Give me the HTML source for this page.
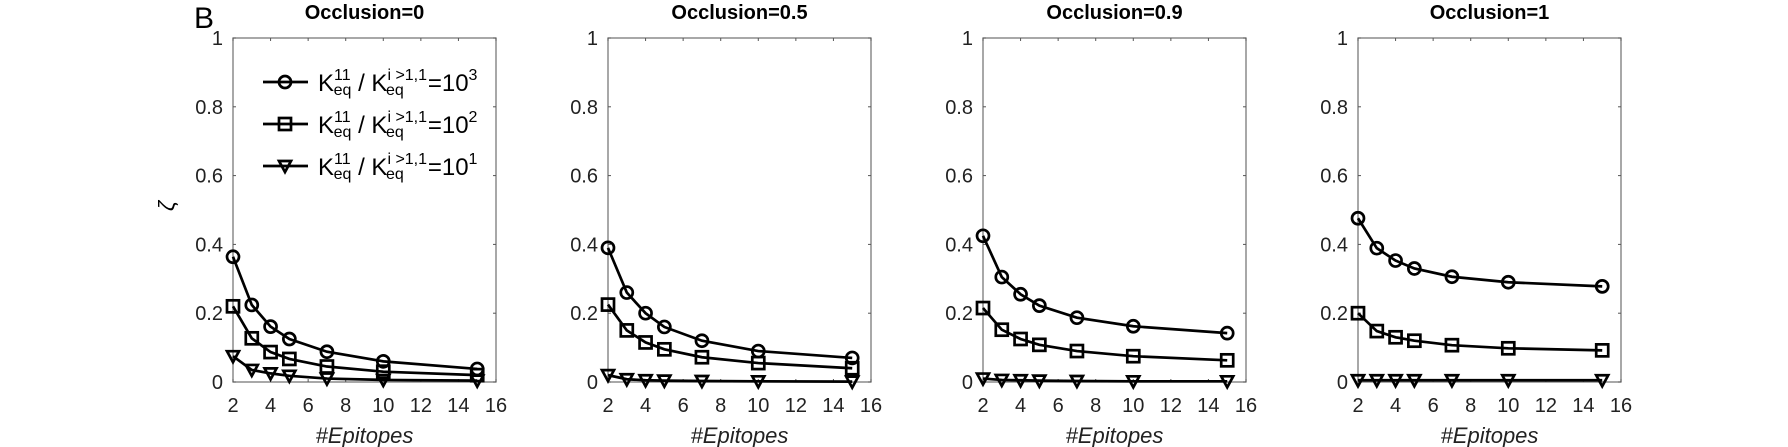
<!DOCTYPE html>
<html><head><meta charset="utf-8"><style>
body{margin:0;background:#fff;}
svg{display:block;font-family:"Liberation Sans",sans-serif;}
</style></head><body>
<svg id="c" width="1788" height="447" viewBox="0 0 1788 447" xmlns="http://www.w3.org/2000/svg"></svg>
<script>
const epitopes=[2,3,4,5,7,10,15];
const titles=["Occlusion=0","Occlusion=0.5","Occlusion=0.9","Occlusion=1"];
const xTicks=[2,4,6,8,10,12,14,16];
const yTicks=[0,0.2,0.4,0.6,0.8,1];
const yTickLabels=["0","0.2","0.4","0.6","0.8","1"];
const ratio1000=[[0.364,0.224,0.161,0.125,0.088,0.06,0.038],[0.39,0.26,0.2,0.16,0.12,0.09,0.07],[0.425,0.305,0.255,0.222,0.187,0.162,0.142],[0.476,0.389,0.353,0.33,0.306,0.29,0.278]];
const ratio100=[[0.22,0.127,0.087,0.067,0.045,0.03,0.02],[0.225,0.15,0.115,0.095,0.072,0.055,0.04],[0.215,0.152,0.125,0.108,0.09,0.075,0.063],[0.2,0.148,0.13,0.12,0.107,0.098,0.092]];
const ratio10=[[0.075,0.035,0.025,0.018,0.01,0.006,0.004],[0.02,0.008,0.005,0.004,0.003,0.002,0.001],[0.01,0.006,0.005,0.004,0.003,0.002,0.002],[0.005,0.005,0.005,0.005,0.005,0.005,0.005]];
const series=[ratio1000,ratio100,ratio10];
const markers=["circle","square","triangle"];
const exps=["3","2","1"];
const NS="http://www.w3.org/2000/svg";
const svg=document.getElementById('c');
function mk(t,a,p){const e=document.createElementNS(NS,t);for(const k in a)e.setAttribute(k,a[k]);(p||svg).appendChild(e);return e;}
const lefts=[233,608,983,1358],W=263,top0=38,bot=382;
function marker(g,type,x,y){
  if(type==="circle")return mk('circle',{cx:x,cy:y,r:6,fill:'none',stroke:'#000','stroke-width':2.7},g);
  if(type==="square")return mk('rect',{x:x-6,y:y-6,width:12,height:12,fill:'none',stroke:'#000','stroke-width':2.7},g);
  return mk('polygon',{points:`${x-6},${y-5} ${x+6},${y-5} ${x},${y+6}`,fill:'none',stroke:'#000','stroke-width':2.7},g);
}
const bT=mk('text',{x:194,y:28,'font-size':30});bT.textContent="B";


const zl=mk('text',{x:165,y:214,'font-size':22,'font-style':'italic',transform:'rotate(-90 168 208)'});zl.textContent="ζ";


for(let p=0;p<4;p++){
  const L=lefts[p];
  const xs=v=>L+(v-2)/14*W, ys=v=>bot-v*(bot-top0);
  const g=mk('g',{});
  
  
  const t=mk('text',{x:L+W/2,y:19,'font-size':20,'font-weight':'bold','text-anchor':'middle'},g);t.textContent=titles[p];
  
  
  mk('rect',{x:L,y:top0,width:W,height:bot-top0,fill:'none',stroke:'#7a7a7a','stroke-width':1.3},g);
  xTicks.forEach(v=>{const x=xs(v);mk('line',{x1:x,x2:x,y1:bot,y2:bot-3,stroke:'#555'},g);mk('line',{x1:x,x2:x,y1:top0,y2:top0+3,stroke:'#555'},g);
    const tl=mk('text',{x:x,y:bot+30,'font-size':20,'text-anchor':'middle',fill:'#222'},g);tl.textContent=v;
    
    });
  yTicks.forEach((v,i)=>{const y=ys(v);mk('line',{x1:L,x2:L+3,y1:y,y2:y,stroke:'#555'},g);mk('line',{x1:L+W,x2:L+W-3,y1:y,y2:y,stroke:'#555'},g);
    const tl=mk('text',{x:L-10,y:y+7,'font-size':20,'text-anchor':'end',fill:'#222'},g);tl.textContent=yTickLabels[i];
    
    });
  const xl=mk('text',{x:L+W/2,y:bot+61,'font-size':22,'font-style':'italic','text-anchor':'middle',fill:'#222'},g);xl.textContent="#Epitopes";
  
  
  series.forEach((s,si)=>{
    const vals=s[p];
    const pts=vals.map((v,i)=>xs(epitopes[i])+","+ys(v)).join(" ");
    const pl=mk('polyline',{points:pts,fill:'none',stroke:'#000','stroke-width':2.7},g);
    
    
    vals.forEach((v,i)=>{const m=marker(g,markers[si],xs(epitopes[i]),ys(v));
      
      });
  });
}
const lg=mk('g',{});


[82,124,166].forEach((y,i)=>{
  const e=mk('g',{},lg);
  
  
  mk('line',{x1:263,x2:308,y1:y,y2:y,stroke:'#000','stroke-width':2.7},e);
  marker(e,markers[i],285,y);
  const t=mk('text',{x:318,y:y+9,'font-size':24},e);
  t.innerHTML=`K<tspan font-size="16" dy="-11">11</tspan><tspan font-size="16" dx="-17" dy="15">eq</tspan><tspan dy="-4"> / K</tspan><tspan font-size="16" dy="-11">i &gt;1,1</tspan><tspan font-size="16" dx="-41" dy="15">eq</tspan><tspan dx="24" dy="-4">=10</tspan><tspan font-size="16" dy="-11">${exps[i]}</tspan>`;
});
</script>
</body></html>
